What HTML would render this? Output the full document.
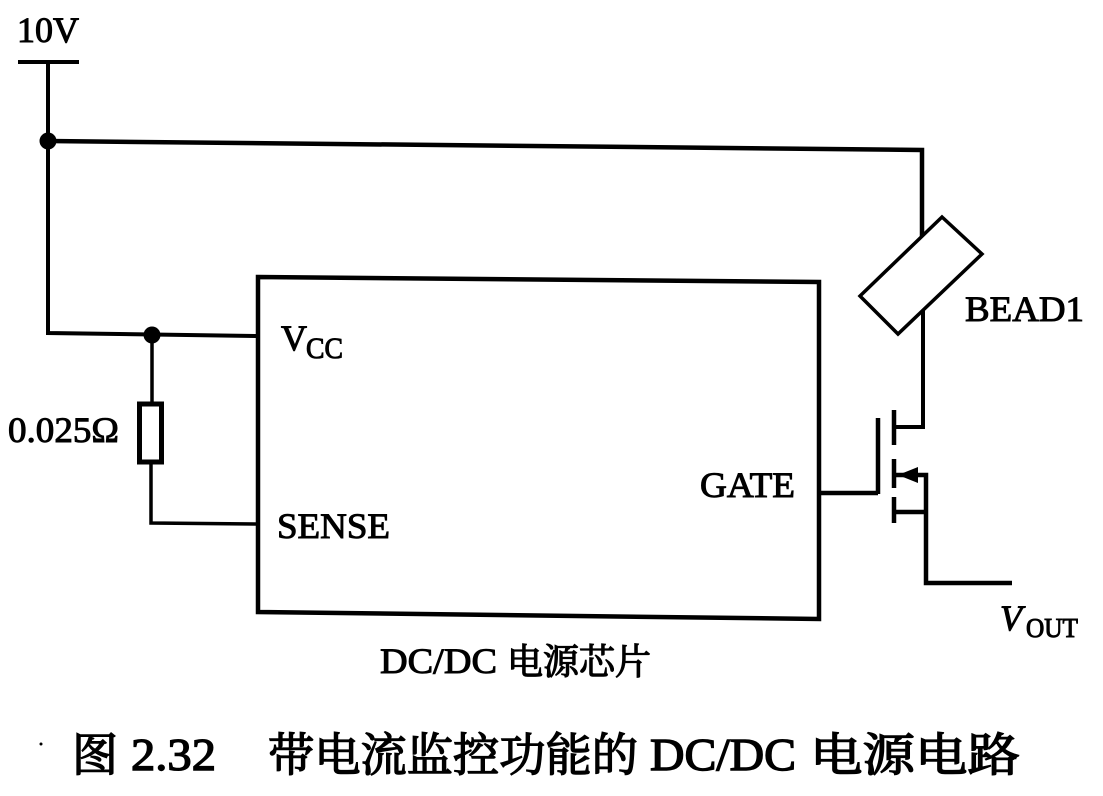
<!DOCTYPE html>
<html><head><meta charset="utf-8"><style>
html,body{margin:0;padding:0;background:#fff;width:1103px;height:796px;overflow:hidden}
svg{display:block}
text{font-family:"Liberation Serif","Noto Serif CJK SC",serif;fill:#000;stroke:#000;stroke-width:1}
.h{font-family:"Liberation Serif","Noto Serif CJK SC",serif;stroke-width:1.2}
.c{font-family:"Liberation Serif","Noto Serif CJK SC",serif;stroke-width:1.4}
</style></head><body>
<svg width="1103" height="796" viewBox="0 0 1103 796" xmlns="http://www.w3.org/2000/svg">
<g fill="none" stroke="#000" stroke-width="4">
<path d="M18 62H79"/>
<path d="M48 62V333L258 336"/>
<path d="M48 141L922 150V236" stroke-width="4.500"/>
<path d="M923 310V427H894"/>
<polygon points="942,217 982,254 898,334 860,296" stroke-width="3.500"/>
<polygon points="258,277 819,282 819,619 258,612" stroke-width="4.500"/>
<path d="M152 335V403M151 463V523L258 524" stroke-width="3.500"/>
<rect x="139.500" y="404" width="22" height="58" stroke-width="5"/>
<path d="M820 493H878M878 418V494" stroke-width="4.500"/>
<path d="M894 410V445M894 459V488M894 497V523" stroke-width="4.500"/>
<path d="M894 475H926V583L1012 583M894 512H926" stroke-width="4.500"/>
</g>
<circle cx="48" cy="141" r="8.500"/>
<circle cx="152" cy="335" r="8.500"/>
<polygon points="898,475 918,467 918,483"/>

<text x="17" y="42" font-size="36" textLength="62" lengthAdjust="spacingAndGlyphs">10V</text>
<text x="281" y="350" font-size="36">V</text>
<text x="306" y="358" font-size="30" textLength="37" lengthAdjust="spacingAndGlyphs">CC</text>
<text x="8" y="442" font-size="36" textLength="111" lengthAdjust="spacingAndGlyphs">0.025Ω</text>
<text x="277" y="538" font-size="36" textLength="113" lengthAdjust="spacingAndGlyphs">SENSE</text>
<text x="700" y="497" font-size="36" textLength="95" lengthAdjust="spacingAndGlyphs">GATE</text>
<text x="965" y="321" font-size="36" textLength="119" lengthAdjust="spacingAndGlyphs">BEAD1</text>
<text x="1000" y="630" font-size="36" font-style="italic">V</text>
<text x="1026" y="637" font-size="27" textLength="52" lengthAdjust="spacingAndGlyphs">OUT</text>
<text x="380" y="673" font-size="36" textLength="117" lengthAdjust="spacingAndGlyphs">DC/DC</text>
<text class="h" x="507" y="674" font-size="36" textLength="144" lengthAdjust="spacingAndGlyphs">电源芯片</text>

<text class="c" x="72" y="771" font-size="46">图</text>
<text class="c" x="131" y="770" font-size="46" textLength="85" lengthAdjust="spacingAndGlyphs">2.32</text>
<text class="c" x="268" y="771" font-size="46" textLength="370" lengthAdjust="spacingAndGlyphs">带电流监控功能的</text>
<text class="c" x="650" y="770" font-size="46" textLength="146" lengthAdjust="spacingAndGlyphs">DC/DC</text>
<text class="c" x="810" y="771" font-size="46" textLength="210" lengthAdjust="spacingAndGlyphs">电源电路</text>
<circle cx="41" cy="744" r="1.500"/>
</svg>
</body></html>
